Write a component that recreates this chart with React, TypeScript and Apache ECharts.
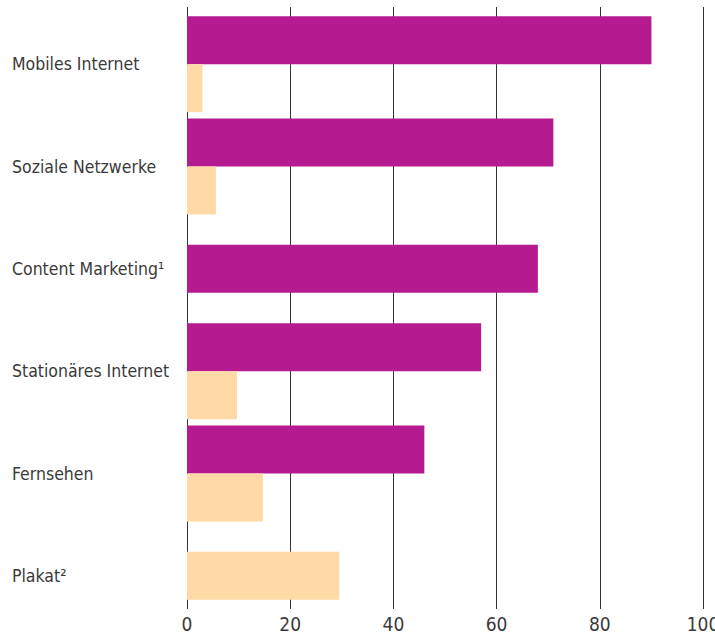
import React, { useEffect, useRef } from "react";
import * as echarts from "echarts";

const categories = [
  "Mobiles Internet",
  "Soziale Netzwerke",
  "Content Marketing¹",
  "Stationäres Internet",
  "Fernsehen",
  "Plakat²",
];
const purpleValues: (number | null)[] = [90, 71, 68, 57, 46, null];
const peachValues: (number | null)[] = [3, 5.6, null, 9.7, 14.7, 29.5];
const xTicks = { min: 0, max: 100, interval: 20 };

const PURPLE = "#B51A90";
const PEACH = "#FFD9A6";
const FONT = '"DejaVu Sans Condensed", "Liberation Sans", sans-serif';
const TEXT = "#3a3a3a";

export default function App() {
  const ref = useRef<HTMLDivElement>(null);
  useEffect(() => {
    if (!ref.current) return;
    const chart = echarts.init(ref.current, undefined, { renderer: "svg" });
    const paired = categories.map((_, i) => purpleValues[i] != null && peachValues[i] != null);
    const purplePaired = purpleValues.map((v, i) => (paired[i] ? v : null));
    const peachPaired = peachValues.map((v, i) => (paired[i] ? v : null));
    const purpleSingle = purpleValues.map((v, i) => (!paired[i] ? v : null));
    const peachSingle = peachValues.map((v, i) => (!paired[i] ? v : null));

    chart.setOption({
      animation: false,
      grid: [
        { left: 187, right: 12, top: 7, bottom: 28, outerBoundsMode: "none", containLabel: false },
        { left: 187, right: 12, top: 13, height: 614, outerBoundsMode: "none", containLabel: false },
      ],
      xAxis: [
        {
          type: "value",
          gridIndex: 0,
          min: xTicks.min,
          max: xTicks.max,
          interval: xTicks.interval,
          axisLine: { show: false },
          axisTick: { show: false },
          splitLine: { show: true, lineStyle: { color: "#333", width: 1 } },
          axisLabel: { fontFamily: FONT, fontSize: 19, color: TEXT, margin: 5 },
        },
        {
          type: "value",
          gridIndex: 1,
          min: xTicks.min,
          max: xTicks.max,
          show: false,
        },
      ],
      yAxis: [
        { type: "value", gridIndex: 0, show: false },
        {
          type: "category",
          gridIndex: 1,
          data: categories,
          inverse: true,
          position: "left",
          axisLine: { show: false },
          axisTick: { show: false },
          splitLine: { show: false },
          axisLabel: {
            align: "left",
            margin: 175,
            fontFamily: FONT,
            fontSize: 17.5,
            color: TEXT,
          },
        },
        {
          type: "category",
          gridIndex: 1,
          data: categories,
          inverse: true,
          position: "right",
          show: false,
        },
      ],
      series: [
        {
          type: "bar",
          xAxisIndex: 1,
          yAxisIndex: 1,
          data: purplePaired,
          barWidth: 48,
          barGap: "0%",
          itemStyle: { color: PURPLE },
        },
        {
          type: "bar",
          xAxisIndex: 1,
          yAxisIndex: 1,
          data: peachPaired,
          barWidth: 48,
          barGap: "0%",
          itemStyle: { color: PEACH },
        },
        {
          type: "bar",
          xAxisIndex: 1,
          yAxisIndex: 2,
          data: purpleSingle,
          barWidth: 48,
          barGap: "-100%",
          itemStyle: { color: PURPLE },
        },
        {
          type: "bar",
          xAxisIndex: 1,
          yAxisIndex: 2,
          data: peachSingle,
          barWidth: 48,
          barGap: "-100%",
          itemStyle: { color: PEACH },
        },
      ],
    });
    return () => chart.dispose();
  }, []);
  return (
    <div
      ref={ref}
      style={{ position: "absolute", left: 0, top: 0, width: 715, height: 637 }}
    />
  );
}
